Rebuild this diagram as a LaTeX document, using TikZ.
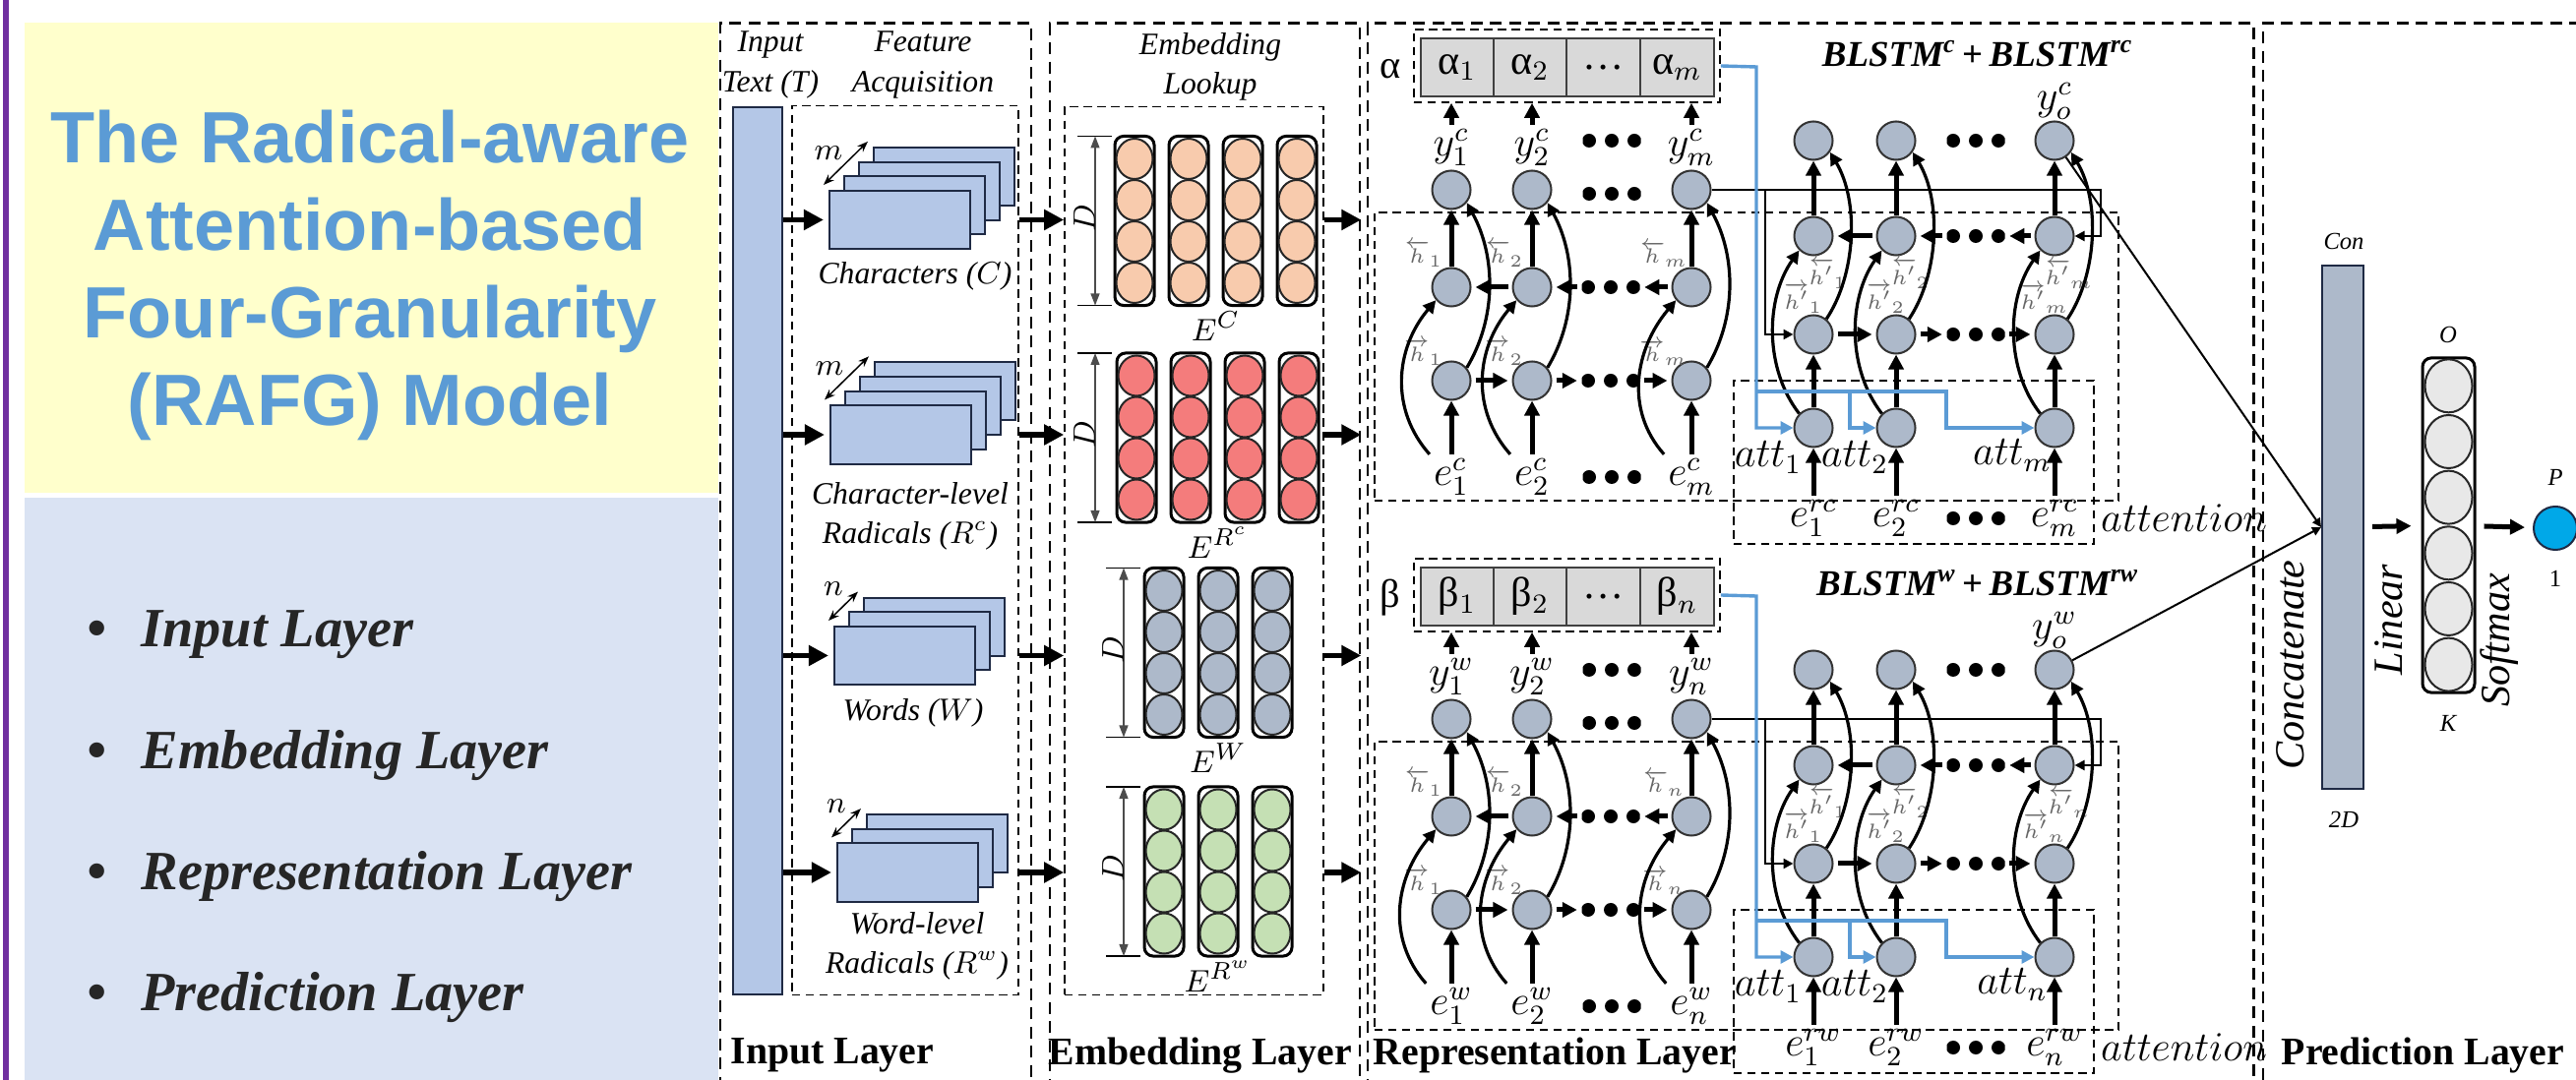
\documentclass[tikz,border=0pt]{standalone}
\usepackage{amsmath}
\usepackage{fontspec}
\setmainfont{Liberation Serif}
\newfontfamily\titlefont{Liberation Sans}
\usetikzlibrary{arrows.meta, positioning, shapes.geometric}
\definecolor{titlebg}{HTML}{FFFFCC}
\definecolor{listbg}{HTML}{DAE3F3}
\definecolor{titleblue}{HTML}{5B9BD5}
\definecolor{sidebar}{HTML}{7030A0}
\definecolor{itemgray}{HTML}{262626}
\definecolor{featfill}{HTML}{B4C7E7}
\definecolor{featline}{HTML}{1F2A44}
\definecolor{peach}{HTML}{F8CBAD}
\definecolor{salmon}{HTML}{F47C7C}
\definecolor{slate}{HTML}{ADB9CA}
\definecolor{sage}{HTML}{C5E0B4}
\definecolor{wgray}{HTML}{D9D9D9}
\definecolor{ofill}{HTML}{E8E8E8}
\definecolor{pblue}{HTML}{00A8E8}
\definecolor{attblue}{HTML}{5B9BD5}

\begin{document}
\begin{tikzpicture}[x=0.01cm, y=-0.01cm,
    layerbox/.style={draw, line width=0.25mm, dash pattern=on 1.2mm off 0.75mm, inner sep=0},
    subbox/.style={draw, line width=0.15mm, dash pattern=on 0.85mm off 0.55mm, inner sep=0},
    featrect/.style={draw=featline, fill=featfill, line width=0.2mm, minimum width=14.3mm,
                     minimum height=5.9mm, inner sep=0},
    embcol/.style={draw, rounded corners=0.9mm, line width=0.3mm, minimum width=4mm,
                   minimum height=17.2mm, inner sep=0},
    embdot/.style={ellipse, draw=black!85, line width=0.2mm, minimum width=3.7mm,
                   minimum height=4.1mm, inner sep=0},
    cell/.style={circle, draw=black!80, fill=slate, line width=0.2mm, minimum size=3.9mm, inner sep=0},
    wcell/.style={draw=black!75, fill=wgray, line width=0.2mm, minimum width=7.45mm,
                  minimum height=5.9mm, inner sep=0, font=\fontsize{12}{13}\selectfont},
    dotrow/.style={minimum width=5.9mm, minimum height=1.5mm, inner sep=0,
                   path picture={\foreach \q in {-1,0,1}
                       \fill ([xshift=\q*2.3mm]path picture bounding box.center) circle (0.7mm);}},
    titletext/.style={font=\titlefont\fontsize{21}{25.3}\selectfont\bfseries, text=titleblue,
                      align=center, inner sep=0},
    listitem/.style={anchor=west, font=\fontsize{16}{18}\selectfont\bfseries\itshape,
                     text=itemgray, inner sep=0},
    lab/.style={font=\fontsize{9}{11.4}\selectfont\itshape, align=center, inner sep=0},
    mlab/.style={font=\fontsize{11.5}{13}\selectfont, inner sep=1pt},
    hlab/.style={font=\fontsize{6.5}{7}\selectfont, text=black!60, inner sep=0},
    tinylab/.style={font=\fontsize{7}{8}\selectfont\itshape, inner sep=0},
    rotlab/.style={font=\fontsize{12}{13}\selectfont\itshape, rotate=90, inner sep=0},
    layerlab/.style={font=\fontsize{11.3}{13}\selectfont\bfseries, anchor=west, inner sep=0},
    ttl/.style={font=\fontsize{10.5}{12}\selectfont\bfseries\itshape, inner sep=0},
    bigarr/.style={-{Triangle[length=2mm,width=2mm]}, line width=0.55mm},
    uparr/.style={-{Triangle[length=1.5mm,width=1.5mm]}, line width=0.5mm},
    harr/.style={uparr, shorten <=0.4mm, shorten >=0.4mm},
    curv/.style={-{Triangle[length=1.3mm,width=1.3mm]}, line width=0.32mm},
    thinarr/.style={-{Triangle[length=1mm,width=1mm]}, line width=0.22mm},
    bluearr/.style={draw=attblue, line width=0.34mm, -{Triangle[length=1.3mm,width=1.3mm]}},
    conarr/.style={-{Triangle[length=0.9mm,width=0.9mm]}, line width=0.2mm},
    dimarr/.style={{Triangle[length=1.2mm,width=0.9mm]}-{Triangle[length=1.2mm,width=0.9mm]},
                   line width=0.12mm, draw=black!70},
    stackarr/.style={{Stealth[length=1.1mm]}-{Stealth[length=1.1mm]}, line width=0.15mm}
]
\useasboundingbox (0,0) rectangle (2618,1098);
\clip (0,0) rectangle (2618,1098);

% left panel
\draw[sidebar, line width=0.5mm] (6,0) -- (6,1098);
\node[fill=titlebg, minimum width=70.5mm, minimum height=47.8mm, inner sep=0] (titlebox) at (377.5,262) {};
\node[fill=listbg, minimum width=70.5mm, minimum height=59.3mm, inner sep=0] (listbox) at (377.5,802.5) {};
\node[titletext] (title) at (376,280) {The Radical-aware\\Attention-based\\Four-Granularity\\(RAFG) Model};
\foreach \t/\yy [count=\n] in {Input Layer/645, Embedding Layer/768, Representation Layer/891, Prediction Layer/1014}
  \node[listitem] (item\n) at (88,\yy) {\textbullet\hspace{10pt}\t};

% layers
\node[layerbox, minimum width=31.6mm, minimum height=108.6mm] (inlayer) at (890,567) {};
\node[layerbox, minimum width=31.5mm, minimum height=108.6mm] (emblayer) at (1224.5,567) {};
\node[layerbox, minimum width=90mm, minimum height=108.6mm] (replayer) at (1840,567) {};
\node[layerbox, minimum width=34mm, minimum height=108.6mm] (predlayer) at (2470,567) {};

% input layer
\node[lab] (intext) at (783,66) {Input\\Text (T)};
\node[lab] (featlab) at (938,66) {Feature\\Acquisition};
\node[draw=featline, fill=featfill, line width=0.2mm, minimum width=5mm, minimum height=90.2mm, inner sep=0] (inbar) at (770,560) {};
\node[subbox, minimum width=23mm, minimum height=90.3mm] (featbox) at (920,559.5) {};
\node[subbox, minimum width=26.3mm, minimum height=90.2mm] (embbox) at (1213.5,560) {};
\node[lab] (emblab) at (1230,68) {Embedding\\Lookup};

\foreach \g/\xf/\yf/\n/\v in {1/914.5/223.5/4/m, 2/915.5/442/4/m, 3/919.5/666.5/3/n, 4/922.5/887/3/n}{
  \foreach \q in {\n,...,1}
    \node[featrect] (ft-\g-\q) at (\xf+15*\q-15, \yf-14.7*\q+14.7) {};
  \draw[stackarr] ([shift={(-5,-5)}]ft-\g-1.north west) -- ([shift={(-5,-5)}]ft-\g-\n.north west);
  \node[lab] (dim-\g) at ([shift={(0,-37)}]ft-\g-1.north west) {$\v$};
  \draw[bigarr] (ft-\g-1.west -| inbar.east) -- ([xshift=-0.5mm]ft-\g-1.west);
  \draw[bigarr] (ft-\g-1.west -| featbox.east) -- (ft-\g-1.west -| embbox.west);
  \draw[bigarr] (ft-\g-1.west -| embbox.east) -- (ft-\g-1.west -| emblayer.east);
}
\node[lab] (chrlab) at (930,281) {Characters ($C$)};
\node[lab] (rclab) at (925,525) {Character-level\\Radicals ($R^{c}$)};
\node[lab] (wrdlab) at (928,725) {Words ($W$)};
\node[lab] (rwlab) at (932,962) {Word-level\\Radicals ($R^{w}$)};

% embedding layer
\foreach \g/\yc/\n/\fc/\xs/\dx/\lb in {1/224.5/4/peach/1153/1113/$E^{C}$, 2/445/4/salmon/1155/1113/$E^{R^{c}}$,
                                       3/663.5/3/slate/1183/1142/$E^{W}$, 4/886/3/sage/1183/1142/$E^{R^{w}}$}{
  \foreach \j in {1,...,\n}{
    \node[embcol] (col-\g-\j) at (\xs+55*\j-55, \yc) {};
    \foreach \r [count=\q] in {-63,-21,21,63}
      \node[embdot, fill=\fc] (ed-\g-\j-\q) at (\xs+55*\j-55, \yc+\r) {};
  }
  \draw[line width=0.15mm] (\dx-18,\yc-86) -- (\dx+17,\yc-86);
  \draw[line width=0.15mm] (\dx-18,\yc+86) -- (\dx+17,\yc+86);
  \coordinate (dt-\g) at (\dx,\yc-86);
  \coordinate (db-\g) at (\dx,\yc+86);
  \draw[dimarr] (dt-\g) -- (db-\g);
  \node[lab, rotate=90] (dl-\g) at (\dx-11,\yc-3) {$D$};
  \node[mlab, font=\fontsize{9.5}{11}\selectfont] (el-\g) at (\xs+27.5*\n-27.5, \yc+107) {\lb};
}

% representation layer
\foreach \k/\dy/\gr/\ix/\sa/\sb in {c/0/α/m/c/rc, w/538/β/n/w/rw}{
\begin{scope}[shift={(0,\dy)}]
  % attention weights
  \node[mlab] (gl-\k) at (1413,70) {\gr};
  \node[subbox, minimum width=31.1mm, minimum height=7.4mm] (wbox-\k) at (1592.5,67) {};
  \node[wcell] (w-\k-1) at (1481,68.5) {\gr$_1$};
  \node[wcell] (w-\k-2) at (1555,68.5) {\gr$_2$};
  \node[wcell] (w-\k-3) at (1629.5,68.5) {\dots};
  \node[wcell] (w-\k-4) at (1704.5,68.5) {\gr$_\ix$};
  \node[subbox, minimum width=75.6mm, minimum height=29.3mm] (bl-\k) at (1775,362.5) {};
  \node[subbox, minimum width=36.6mm, minimum height=16.6mm] (attbox-\k) at (1945,470) {};
  \node[mlab, anchor=west] (attn-\k) at (2131,527) {$attention$};
  \node[ttl] (tt-\k) at (2010,55) {BLSTM\textsuperscript{\sa}\,\textup{+}\,BLSTM\textsuperscript{\sb}};

  % first BLSTM
  \foreach \i/\x/\sx in {1/1475/1, 2/1557/2, 3/1719/\ix}{
    \node[mlab] (y-\k-\i) at (\x,150) {$y_{\sx}^{\sa}$};
    \node[cell] (o-\k-\i) at (\x,193) {};
    \node[cell] (b-\k-\i) at (\x,292) {};
    \node[cell] (f-\k-\i) at (\x,387) {};
    \node[mlab] (e-\k-\i) at (\x,485) {$e_{\sx}^{\sa}$};
    \node[hlab] (hb-\k-\i) at (\x-28,258) {$\overleftarrow{h}_{\sx}$};
    \node[hlab] (hf-\k-\i) at (\x-28,358) {$\overrightarrow{h}_{\sx}$};
    \draw[uparr] (y-\k-\i) -- (y-\k-\i |- wbox-\k.south);
    \draw[uparr] (e-\k-\i) -- (f-\k-\i);
    \draw[uparr] (b-\k-\i) -- (o-\k-\i);
    \draw[curv] (e-\k-\i.north west) .. controls +(-40,-45) and +(-42,50) .. (b-\k-\i.220);
    \draw[curv] (f-\k-\i.40) .. controls +(30,-50) and +(30,55) .. (o-\k-\i.320);
  }
  \node[dotrow] (yd-\k) at (1638,143) {};
  \node[dotrow] (od-\k) at (1638,197) {};
  \node[dotrow] (bd-\k) at (1637,292) {};
  \node[dotrow] (fd-\k) at (1637,387) {};
  \node[dotrow] (edd-\k) at (1638,485) {};
  \draw[harr] (f-\k-1) -- (f-\k-2);
  \draw[harr] (f-\k-2) -- (fd-\k);
  \draw[harr] (fd-\k) -- (f-\k-3);
  \draw[harr] (b-\k-2) -- (b-\k-1);
  \draw[harr] (bd-\k) -- (b-\k-2);
  \draw[harr] (b-\k-3) -- (bd-\k);

  % second BLSTM with attention
  \foreach \i/\x/\sx in {1/1843/1, 2/1927/2, 3/2088/\ix}{
    \node[cell] (op-\k-\i) at (\x,143) {};
    \node[cell] (bp-\k-\i) at (\x,240) {};
    \node[cell] (fp-\k-\i) at (\x,340) {};
    \node[cell] (at-\k-\i) at (\x,435) {};
    \node[mlab] (er-\k-\i) at (\x,527) {$e_{\sx}^{\sb}$};
    \node[hlab] (hbp-\k-\i) at (\x+15,278) {$\overleftarrow{h'}_{\sx}$};
    \node[hlab] (hfp-\k-\i) at (\x-10,303) {$\overrightarrow{h'}_{\sx}$};
    \draw[uparr] (er-\k-\i) -- (at-\k-\i);
    \draw[uparr] (at-\k-\i) -- (fp-\k-\i);
    \draw[uparr] (bp-\k-\i) -- (op-\k-\i);
    \draw[curv] (at-\k-\i.135) .. controls +(-35,-45) and +(-35,50) .. (bp-\k-\i.225);
    \draw[curv] (fp-\k-\i.50) .. controls +(30,-45) and +(30,50) .. (op-\k-\i.325);
  }
  \node[mlab] (al-\k-1) at (1797,465) {$att_1$};
  \node[mlab] (al-\k-2) at (1885,465) {$att_2$};
  \node[mlab] (al-\k-3) at (2045,463) {$att_\ix$};
  \node[mlab] (yo-\k) at (2088,103) {$y_o^{\sa}$};
  \node[dotrow] (opd-\k) at (2008,143) {};
  \node[dotrow] (bpd-\k) at (2008,240) {};
  \node[dotrow] (fpd-\k) at (2008,340) {};
  \node[dotrow] (erd-\k) at (2008,527) {};
  \draw[harr] (fp-\k-1) -- (fp-\k-2);
  \draw[harr] (fp-\k-2) -- (fpd-\k);
  \draw[harr] (fpd-\k) -- (fp-\k-3);
  \draw[harr] (bp-\k-2) -- (bp-\k-1);
  \draw[harr] (bpd-\k) -- (bp-\k-2);
  \draw[harr] (bp-\k-3) -- (bpd-\k);

  % last output feeds the second BLSTM
  \coordinate (ycor-\k) at (2135,193);
  \coordinate (ybr-\k) at (1794,193);
  \draw[thinarr] (o-\k-3.east) -- (ycor-\k) |- (bp-\k-3.east);
  \draw[thinarr] (ybr-\k) |- (fp-\k-1.west);

  % attention weights to att nodes
  \coordinate (bt-\k) at (1785,68);
  \coordinate (bs-\k) at (1785,398);
  \coordinate (bs2-\k) at (1880,398);
  \coordinate (bt2-\k) at (1978,398);
  \draw[bluearr] (wbox-\k.east) -- (bt-\k) |- (at-\k-1.west);
  \draw[bluearr] (bs-\k) -- (bt2-\k) |- (at-\k-3.west);
  \draw[bluearr] (bs2-\k) |- (at-\k-2.west);
\end{scope}
}

% prediction layer
\node[draw=featline, fill=slate, line width=0.2mm, minimum width=4.2mm, minimum height=53.2mm, inner sep=0] (conbar) at (2381,536) {};
\node[tinylab] (conlab) at (2382,245) {Con};
\node[tinylab] (twod) at (2382,833) {2D};
\node[rotlab] (concat) at (2328,676) {Concatenate};
\draw[conarr] (op-c-3) -- (conbar.west);
\draw[conarr] (op-w-3) -- (conbar.west);
\node[embcol, minimum width=5.3mm, minimum height=34mm] (ocol) at (2488.5,534) {};
\foreach \q in {1,...,6}
  \node[ellipse, draw=black!85, fill=ofill, line width=0.2mm, minimum width=4.8mm, minimum height=5.4mm, inner sep=0] (ov\q) at (2488.5,364+28.33*\q*2-28.33) {};
\node[tinylab] (olab) at (2488,340) {O};
\node[tinylab] (klab) at (2488,735) {K};
\node[rotlab] (linlab) at (2428,630) {Linear};
\node[circle, draw=featline, fill=pblue, line width=0.2mm, minimum size=4.4mm, inner sep=0] (pout) at (2597,537) {};
\node[tinylab] (plab) at (2597,485) {P};
\node[tinylab, font=\fontsize{7}{8}\selectfont] (onelab) at (2597,588) {1};
\node[rotlab] (smlab) at (2540,651) {Softmax};
\draw[uparr, shorten <=0.8mm, shorten >=1mm] (conbar) -- (ocol);
\draw[uparr, shorten <=0.8mm, shorten >=0.8mm] (ocol) -- (pout);

% layer names
\node[layerlab] (inname) at (742,1073) {Input Layer};
\node[layerlab] (embname) at (1065,1073) {Embedding Layer};
\node[layerlab] (repname) at (1395,1073) {Representation Layer};
\node[layerlab] (predname) at (2318,1073) {Prediction Layer};

\end{tikzpicture}
\end{document}
